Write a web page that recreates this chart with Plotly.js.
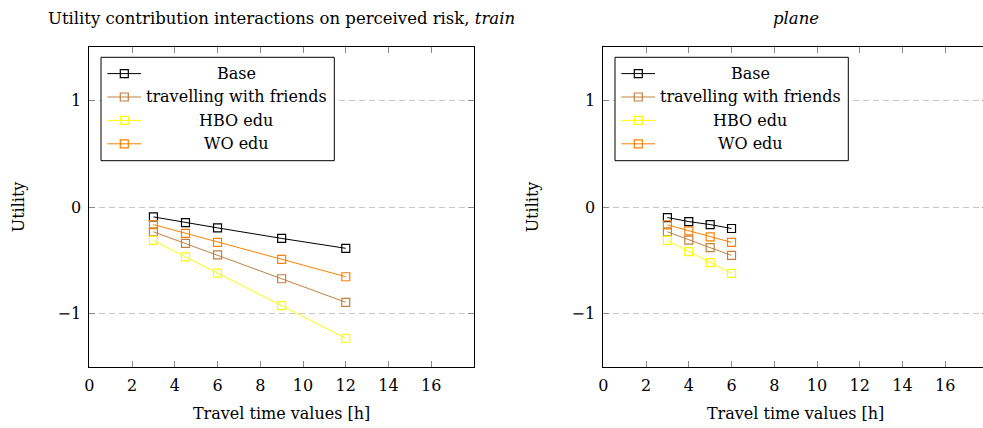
<!DOCTYPE html>
<html>
<head>
<meta charset="utf-8">
<script src="https://cdn.plot.ly/plotly-3.0.1.min.js"></script>
<style>
html,body{margin:0;padding:0;background:#fff;overflow:hidden;width:983px;height:428px;}
#chart{width:990px;height:428px;}
</style>
</head>
<body>
<div id="chart"></div>
<script>
// ---- data ----
const seriesNames = ["Base", "travelling with friends", "HBO edu", "WO edu"];
const seriesColors = ["#000000", "#bf8040", "#ffff00", "#ff8000"];

const trainX = [3, 4.5, 6, 9, 12];
const trainBase = [-0.093, -0.146, -0.196, -0.295, -0.388];
const trainFriends = [-0.233, -0.342, -0.450, -0.674, -0.895];
const trainHBO = [-0.314, -0.469, -0.621, -0.926, -1.233];
const trainWO = [-0.165, -0.248, -0.332, -0.491, -0.655];

const planeX = [3, 4, 5, 6];
const planeBase = [-0.099, -0.137, -0.165, -0.202];
const planeFriends = [-0.233, -0.311, -0.382, -0.454];
const planeHBO = [-0.314, -0.419, -0.522, -0.624];
const planeWO = [-0.168, -0.224, -0.280, -0.332];

const xTickVals = [0, 2, 4, 6, 8, 10, 12, 14, 16];
const yTickVals = [-1, 0, 1];

const titleLeft = "Utility contribution interactions on perceived risk, <i>train</i>";
const titleRight = "<i>plane</i>";
const xTitle = "Travel time values [h]";
const yTitle = "Utility";

// ---- layout helpers ----
const W = 990, H = 428;
const FONT = "DejaVu Serif";
const FS = 16;
const px = x => x / W;
const py = y => 1 - y / H;

const trainSets = [trainBase, trainFriends, trainHBO, trainWO];
const planeSets = [planeBase, planeFriends, planeHBO, planeWO];

const traces = [];
function addTraces(xs, sets, xa, ya) {
  sets.forEach((ys, i) => {
    traces.push({
      type: "scatter", mode: "lines+markers",
      x: xs, y: ys, xaxis: xa, yaxis: ya,
      name: seriesNames[i],
      line: {color: seriesColors[i], width: 1},
      marker: {symbol: "square-open", size: 8, color: seriesColors[i], line: {width: 1.2, color: seriesColors[i]}},
      showlegend: false, hoverinfo: "x+y+name"
    });
  });
}
addTraces(trainX, trainSets, "x", "y");
addTraces(planeX, planeSets, "x2", "y2");

const plotTop = 47.3, plotBottom = 366.7;
const leftX0 = 89.3, plotW = 384.7, rightX0 = 603.3;

function xAxis(x0, anchor) {
  return {
    domain: [px(x0), px(x0 + plotW)], anchor: anchor,
    range: [0, 18], tickvals: xTickVals, ticktext: xTickVals.map(String),
    ticks: "inside", ticklen: 6, tickwidth: 1, tickcolor: "#888",
    showline: true, linecolor: "#000", linewidth: 1, mirror: "allticks",
    showgrid: false, zeroline: false, fixedrange: true,
    tickfont: {family: FONT, size: FS, color: "#000"},
    ticklabelstandoff: 4,
    title: {text: xTitle, font: {family: FONT, size: FS, color: "#000"}, standoff: 13}
  };
}
function yAxis(anchor) {
  return {
    domain: [py(plotBottom), py(plotTop)], anchor: anchor,
    range: [-1.5, 1.5], tickvals: yTickVals,
    ticks: "inside", ticklen: 6, tickwidth: 1, tickcolor: "#888",
    showline: true, linecolor: "#000", linewidth: 1, mirror: "allticks",
    showgrid: true, gridcolor: "#c8c8c8", gridwidth: 1, griddash: "6px,4px",
    zeroline: false, fixedrange: true,
    tickfont: {family: FONT, size: FS, color: "#000"},
    ticklabelstandoff: 4,
    title: {text: yTitle, font: {family: FONT, size: FS, color: "#000"}, standoff: 28}
  };
}

const shapes = [];
const annotations = [];
function addLegend(offset) {
  const bx0 = 101 + offset, bx1 = 334.3 + offset, by0 = 57.3, by1 = 160.7;
  shapes.push({type: "rect", xref: "paper", yref: "paper", layer: "above",
    x0: px(bx0), x1: px(bx1), y0: py(by1), y1: py(by0),
    line: {color: "#000", width: 1}, fillcolor: "#fff"});
  seriesNames.forEach((n, i) => {
    const ry = 73.6 + 23.4 * i;
    shapes.push({type: "line", xref: "paper", yref: "paper", layer: "above",
      x0: px(107.3 + offset), x1: px(141 + offset), y0: py(ry), y1: py(ry),
      line: {color: seriesColors[i], width: 1}});
    shapes.push({type: "rect", xref: "paper", yref: "paper", layer: "above",
      x0: px(120.3 + offset), x1: px(128.3 + offset), y0: py(ry + 4), y1: py(ry - 4),
      line: {color: seriesColors[i], width: 1.2}});
    annotations.push({xref: "paper", yref: "paper", x: px(236 + offset), y: py(ry),
      xanchor: "center", yanchor: "middle", showarrow: false, text: n,
      font: {family: FONT, size: FS, color: "#000"}});
  });
}
addLegend(0);
addLegend(rightX0 - leftX0);

annotations.push({xref: "paper", yref: "paper", x: px(leftX0 + plotW / 2), y: py(19),
  xanchor: "center", yanchor: "middle", showarrow: false, text: titleLeft,
  font: {family: FONT, size: 16.5, color: "#000"}});
annotations.push({xref: "paper", yref: "paper", x: px(rightX0 + plotW / 2), y: py(19),
  xanchor: "center", yanchor: "middle", showarrow: false, text: titleRight,
  font: {family: FONT, size: 16.5, color: "#000"}});

const layout = {
  width: W, height: H,
  margin: {l: 0, r: 0, t: 0, b: 0},
  paper_bgcolor: "#fff", plot_bgcolor: "#fff",
  font: {family: FONT, size: FS, color: "#000"},
  showlegend: false,
  xaxis: xAxis(leftX0, "y"),
  yaxis: yAxis("x"),
  xaxis2: xAxis(rightX0, "y2"),
  yaxis2: yAxis("x2"),
  shapes: shapes,
  annotations: annotations
};

Plotly.newPlot("chart", traces, layout, {displayModeBar: false, staticPlot: true});
</script>
</body>
</html>
